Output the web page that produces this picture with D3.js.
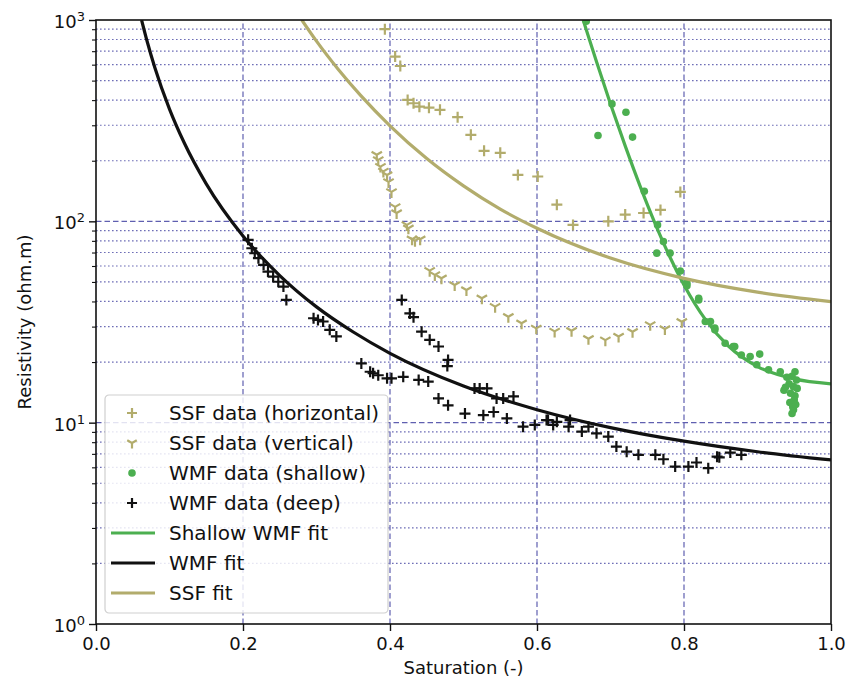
<!DOCTYPE html>
<html>
<head>
<meta charset="utf-8">
<script src="https://cdn.jsdelivr.net/npm/d3@7"></script>
<style>
  html, body { margin: 0; padding: 0; background: #fff; }
  svg { display: block; }
  text { font-family: "DejaVu Sans", sans-serif; fill: #111; }
</style>
</head>
<body>
<svg id="chart" width="854" height="686"></svg>
<script>
// Saturation (-) vs resistivity (ohm.m) measurements, as [S, R] pairs
const ssfHorizontal = [
  [0.393, 900], [0.407, 658], [0.414, 591], [0.424, 401], [0.432, 386],
  [0.440, 371], [0.453, 367], [0.468, 358], [0.492, 329], [0.510, 269],
  [0.528, 224], [0.550, 219], [0.574, 170], [0.601, 167], [0.627, 121],
  [0.649, 96], [0.697, 100], [0.720, 108], [0.745, 110], [0.768, 114],
  [0.795, 140]
];
const ssfVertical = [
  [0.382, 214], [0.384, 202], [0.387, 187], [0.391, 177], [0.396, 170],
  [0.398, 157], [0.402, 140], [0.407, 118], [0.409, 110], [0.423, 96],
  [0.425, 92.4], [0.430, 81.5], [0.434, 80.2], [0.441, 81.5], [0.454, 56.9],
  [0.461, 54.2], [0.470, 52.2], [0.488, 48.3], [0.504, 45.6], [0.525, 41.5],
  [0.543, 37.7], [0.561, 33.6], [0.579, 31.2], [0.599, 29.4], [0.624, 28.4],
  [0.647, 28.6], [0.670, 26.1], [0.693, 25.7], [0.711, 26.8], [0.730, 28.3],
  [0.754, 30.6], [0.774, 29.2], [0.797, 31.7]
];
const wmfShallow = [
  [0.667, 985], [0.702, 383], [0.721, 348], [0.683, 267], [0.730, 262],
  [0.746, 141], [0.764, 96], [0.772, 79.3], [0.763, 69.5], [0.781, 69.5],
  [0.795, 56.7], [0.804, 47.9], [0.804, 49.3], [0.820, 40.7], [0.820, 41.5],
  [0.829, 31.8], [0.836, 31.8], [0.842, 28.9], [0.842, 29.5], [0.856, 24.8],
  [0.869, 23.9], [0.867, 23.9], [0.878, 21.7], [0.890, 21.3], [0.903, 21.9],
  [0.899, 19.4], [0.915, 18.3], [0.931, 17.9], [0.951, 17.9], [0.947, 17.0],
  [0.953, 16.3], [0.943, 15.6], [0.949, 15.1], [0.936, 14.5], [0.945, 14.0],
  [0.951, 13.6], [0.950, 13.0], [0.944, 12.6], [0.948, 12.0], [0.949, 11.6],
  [0.947, 11.1], [0.940, 16.8], [0.938, 15.0], [0.954, 14.8], [0.952, 12.3]
];
const wmfDeep = [
  [0.207, 80.9], [0.212, 73.5], [0.216, 69.4], [0.221, 65.6], [0.228, 60.8],
  [0.234, 56.3], [0.241, 53.1], [0.248, 50.1], [0.255, 47.4], [0.259, 40.7],
  [0.296, 33.0], [0.302, 32.4], [0.309, 31.8], [0.318, 28.9], [0.327, 26.8],
  [0.361, 19.7], [0.373, 17.9], [0.384, 17.2], [0.377, 17.6], [0.396, 16.6],
  [0.402, 16.6], [0.418, 16.9], [0.439, 16.3], [0.452, 16.0], [0.466, 13.2],
  [0.479, 12.2], [0.502, 11.1], [0.527, 10.9], [0.541, 11.3], [0.559, 10.5],
  [0.581, 9.55], [0.597, 9.75], [0.615, 10.3], [0.627, 10.1],
  [0.416, 40.7], [0.427, 34.9], [0.432, 33.4], [0.443, 28.3], [0.454, 25.8],
  [0.466, 23.9], [0.479, 20.5], [0.478, 19.1], [0.515, 14.8], [0.522, 14.8],
  [0.532, 14.8], [0.545, 13.2], [0.554, 13.2], [0.568, 13.5],
  [0.613, 10.3], [0.622, 9.75], [0.645, 10.3], [0.643, 9.55], [0.661, 9.03],
  [0.670, 9.55], [0.681, 8.85], [0.697, 8.53], [0.708, 7.61], [0.722, 7.18],
  [0.738, 6.92], [0.761, 6.92], [0.772, 6.58], [0.788, 6.05], [0.806, 6.05],
  [0.817, 6.34], [0.833, 5.94], [0.845, 6.78], [0.848, 6.73], [0.863, 7.10],
  [0.878, 6.92]
];

// Fitted curves, sampled along saturation
const shallowWmfFit = [
  [0.6628, 1000], [0.68, 636], [0.70, 383], [0.72, 237], [0.74, 150.5],
  [0.76, 98.9], [0.78, 67.5], [0.80, 48.3], [0.83, 32.2], [0.86, 24.1],
  [0.90, 19.0], [0.95, 16.5], [1.0, 15.6]
];
const wmfFit = [
  [0.062, 1000], [0.07, 773], [0.08, 581], [0.10, 361], [0.12, 245.5],
  [0.15, 153.5], [0.20, 84.5], [0.25, 53.8], [0.30, 37.6], [0.35, 28.2],
  [0.40, 22.1], [0.50, 15.2], [0.60, 11.6], [0.70, 9.45], [0.80, 8.09],
  [0.90, 7.17], [1.0, 6.53]
];
const ssfFit = [
  [0.280, 1000], [0.30, 785], [0.33, 566], [0.36, 422], [0.40, 298],
  [0.45, 205], [0.50, 150], [0.55, 115], [0.60, 92.4], [0.70, 65.7],
  [0.80, 52.1], [0.90, 44.5], [1.0, 39.9]
];

const xTicks = [0.0, 0.2, 0.4, 0.6, 0.8, 1.0];
const yDecades = [0, 1, 2, 3];
const legendLabels = [
  "SSF data (horizontal)", "SSF data (vertical)", "WMF data (shallow)",
  "WMF data (deep)", "Shallow WMF fit", "WMF fit", "SSF fit"
];

const olive = "#b2ac6c", green = "#4caf50", black = "#111111";
const gridColor = "#5f5fb0";

const svg = d3.select("#chart");
const margin = { left: 96, right: 23, top: 20, bottom: 62 };
const W = 854, H = 686;
const x = d3.scaleLinear().domain([0, 1]).range([margin.left, W - margin.right]);
const y = d3.scaleLog().domain([1, 1000]).range([H - margin.bottom, margin.top]);

svg.append("defs").append("clipPath").attr("id", "plotClip")
  .append("rect")
  .attr("x", x(0)).attr("y", y(1000))
  .attr("width", x(1) - x(0)).attr("height", y(1) - y(1000));

// Grid: dotted minor lines, dashed major lines
const minorVals = [];
yDecades.slice(0, 3).forEach(d => {
  for (let k = 2; k <= 9; k++) minorVals.push(k * Math.pow(10, d));
});
const grid = svg.append("g");
grid.selectAll(".minor").data(minorVals).join("line")
  .attr("x1", x(0)).attr("x2", x(1))
  .attr("y1", d => y(d)).attr("y2", d => y(d))
  .attr("stroke", gridColor).attr("stroke-width", 1.2)
  .attr("stroke-dasharray", "1.6,2.4").attr("opacity", 0.9);
grid.selectAll(".majorY").data([10, 100]).join("line")
  .attr("x1", x(0)).attr("x2", x(1))
  .attr("y1", d => y(d)).attr("y2", d => y(d))
  .attr("stroke", gridColor).attr("stroke-width", 1.2)
  .attr("stroke-dasharray", "5.5,3");
grid.selectAll(".majorX").data(xTicks.slice(1, -1)).join("line")
  .attr("x1", d => x(d)).attr("x2", d => x(d))
  .attr("y1", y(1)).attr("y2", y(1000))
  .attr("stroke", gridColor).attr("stroke-width", 1.2)
  .attr("stroke-dasharray", "5.5,3");

const plot = svg.append("g").attr("clip-path", "url(#plotClip)");

// Marker shapes
const plusPath = s => `M${-s},0H${s}M0,${-s}V${s}`;
const triDownPath = s => {
  const a = s * 0.866, b = s * 0.5;
  return `M0,0V${s}M0,0L${-a},${-b}M0,0L${a},${-b}`;
};

plot.append("g").selectAll("path").data(ssfHorizontal).join("path")
  .attr("transform", d => `translate(${x(d[0])},${y(d[1])})`)
  .attr("d", plusPath(5.5)).attr("stroke", olive).attr("stroke-width", 2.2).attr("fill", "none");

plot.append("g").selectAll("path").data(ssfVertical).join("path")
  .attr("transform", d => `translate(${x(d[0])},${y(d[1])})`)
  .attr("d", triDownPath(6)).attr("stroke", olive).attr("stroke-width", 2.2).attr("fill", "none");

plot.append("g").selectAll("circle").data(wmfShallow).join("circle")
  .attr("cx", d => x(d[0])).attr("cy", d => y(d[1])).attr("r", 3.8)
  .attr("fill", green);

plot.append("g").selectAll("path").data(wmfDeep).join("path")
  .attr("transform", d => `translate(${x(d[0])},${y(d[1])})`)
  .attr("d", plusPath(5.5)).attr("stroke", black).attr("stroke-width", 2.2).attr("fill", "none");

const line = d3.line().x(d => x(d[0])).y(d => y(d[1])).curve(d3.curveMonotoneX);
plot.append("path").datum(shallowWmfFit).attr("d", line)
  .attr("fill", "none").attr("stroke", green).attr("stroke-width", 3.2);
plot.append("path").datum(wmfFit).attr("d", line)
  .attr("fill", "none").attr("stroke", black).attr("stroke-width", 3.2);
plot.append("path").datum(ssfFit).attr("d", line)
  .attr("fill", "none").attr("stroke", olive).attr("stroke-width", 3.2);

// Axes
const xAxis = d3.axisBottom(x).tickValues(xTicks).tickFormat(d3.format(".1f"))
  .tickSize(7).tickPadding(6);
const gx = svg.append("g").attr("transform", `translate(0,${y(1)})`).call(xAxis);
gx.select(".domain").remove();
gx.selectAll("line").attr("stroke", black).attr("stroke-width", 1.4);
gx.selectAll("text").attr("font-size", 18).attr("fill", "#111");

const yAxis = d3.axisLeft(y).tickValues(minorVals).tickFormat("").tickSize(4);
const gyMinor = svg.append("g").attr("transform", `translate(${x(0)},0)`).call(yAxis);
gyMinor.select(".domain").remove();
gyMinor.selectAll("line").attr("stroke", black).attr("stroke-width", 1.1);

const yMajor = d3.axisLeft(y).tickValues(yDecades.map(d => Math.pow(10, d)))
  .tickFormat("").tickSize(7);
const gy = svg.append("g").attr("transform", `translate(${x(0)},0)`).call(yMajor);
gy.select(".domain").remove();
gy.selectAll("line").attr("stroke", black).attr("stroke-width", 1.4);
gy.selectAll(".tick").each(function(d) {
  const t = d3.select(this).append("text")
    .attr("x", -11).attr("dy", "0.42em").attr("text-anchor", "end")
    .attr("font-size", 18).attr("fill", "#111");
  t.append("tspan").text("10");
  t.append("tspan").attr("dy", "-0.55em").attr("font-size", 13).text(Math.log10(d));
});

// Frame
svg.append("rect")
  .attr("x", x(0)).attr("y", y(1000))
  .attr("width", x(1) - x(0)).attr("height", y(1) - y(1000))
  .attr("fill", "none").attr("stroke", black).attr("stroke-width", 1.6);

// Axis titles
svg.append("text").attr("x", (x(0) + x(1)) / 2).attr("y", 674)
  .attr("text-anchor", "middle").attr("font-size", 18).text("Saturation (-)");
svg.append("text")
  .attr("transform", `translate(31,${(y(1) + y(1000)) / 2}) rotate(-90)`)
  .attr("text-anchor", "middle").attr("font-size", 18).text("Resistivity (ohm.m)");

// Legend
const lg = svg.append("g").attr("transform", "translate(105,395)");
lg.append("rect").attr("width", 283).attr("height", 218).attr("rx", 4)
  .attr("fill", "#fff").attr("fill-opacity", 0.82)
  .attr("stroke", "#cfcfcf").attr("stroke-width", 1.2);
const rowY = i => 18 + i * 30;
legendLabels.forEach((lab, i) => {
  const row = lg.append("g").attr("transform", `translate(0,${rowY(i)})`);
  if (i === 0) row.append("path").attr("transform", "translate(27,0)")
    .attr("d", plusPath(5)).attr("stroke", olive).attr("stroke-width", 2.2).attr("fill", "none");
  if (i === 1) row.append("path").attr("transform", "translate(27,0)")
    .attr("d", triDownPath(5.5)).attr("stroke", olive).attr("stroke-width", 2.2).attr("fill", "none");
  if (i === 2) row.append("circle").attr("cx", 27).attr("r", 3.8).attr("fill", green);
  if (i === 3) row.append("path").attr("transform", "translate(27,0)")
    .attr("d", plusPath(5)).attr("stroke", black).attr("stroke-width", 2.2).attr("fill", "none");
  const lc = [null, null, null, null, green, black, olive][i];
  if (lc) row.append("line").attr("x1", 6).attr("x2", 50)
    .attr("stroke", lc).attr("stroke-width", 3.2);
  row.append("text").attr("x", 64).attr("dy", "0.36em")
    .attr("font-size", 20).text(lab);
});
</script>
</body>
</html>
